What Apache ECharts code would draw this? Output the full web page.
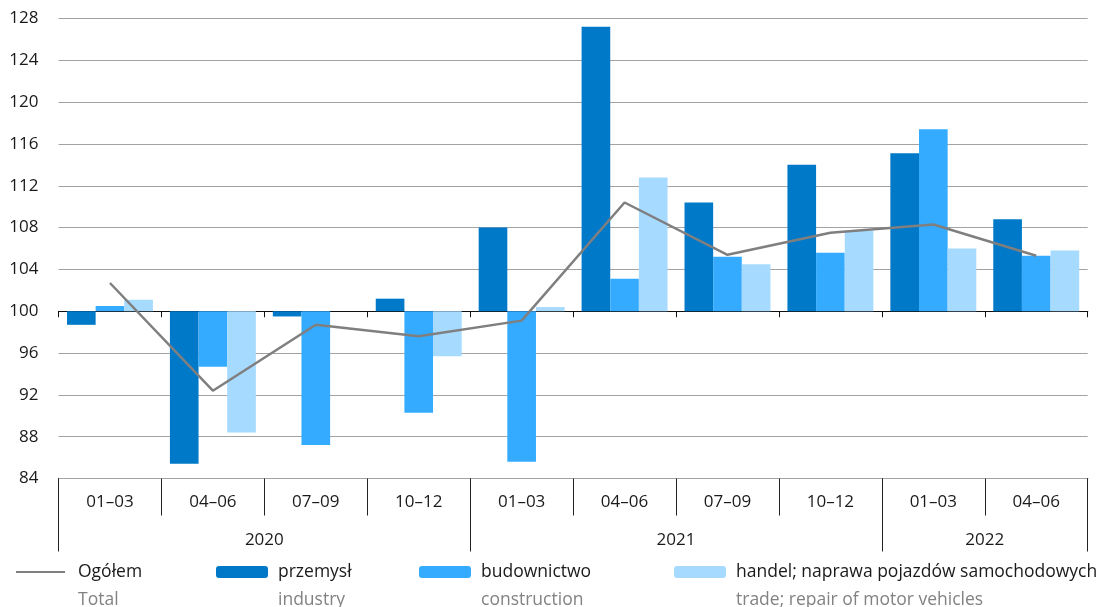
<!DOCTYPE html>
<html>
<head>
<meta charset="utf-8">
<script src="https://cdn.jsdelivr.net/npm/echarts@6/dist/echarts.min.js"></script>
<style>
  html, body { margin: 0; padding: 0; background: #fff; }
  #chart { width: 1098px; height: 607px; }
</style>
</head>
<body>
<div id="chart"></div>
<script>
// Quarterly indices (previous year = 100)
const quarters = ['01–03', '04–06', '07–09', '10–12', '01–03', '04–06', '07–09', '10–12', '01–03', '04–06'];
const years = ['2020', '2021', '2022'];
const quartersPerYear = [4, 4, 2];

const total        = [102.7, 92.4, 98.7, 97.6, 99.1, 110.4, 105.4, 107.5, 108.3, 105.3];
const industry     = [98.7, 85.4, 99.5, 101.2, 108.0, 127.2, 110.4, 114.0, 115.1, 108.8];
const construction = [100.5, 94.7, 87.2, 90.3, 85.6, 103.1, 105.2, 105.6, 117.4, 105.3];
const trade        = [101.1, 88.4, 100.0, 95.7, 100.4, 112.8, 104.5, 107.7, 106.0, 105.8];

const namesPl = ['Ogółem', 'przemysł', 'budownictwo', 'handel; naprawa pojazdów samochodowych'];
const namesEn = ['Total', 'industry', 'construction', 'trade; repair of motor vehicles'];

const BASE = 100;           // bars grow from the 100 line
const FONT = 'Open Sans';
const rel = arr => arr.map(v => +(v - BASE).toFixed(2));

// year group boundaries and centres on a 0..N scale
const yearEdges = [0];
quartersPerYear.forEach(n => yearEdges.push(yearEdges[yearEdges.length - 1] + n));
const yearCentres = years.map((y, i) => (yearEdges[i] + yearEdges[i + 1]) / 2);

const colors = {
  total: '#7f7f7f',
  industry: '#0079c8',
  construction: '#35abff',
  trade: '#a6daff'
};

// thin horizontal stroke for the line-series legend key (box 49 x 12)
const lineIcon = 'path://M0,0L0.01,0L0.01,0.01Z M0,5.1L49,5.1L49,6.9L0,6.9Z M0,12L0.01,12L0.01,11.99Z';

const legendLefts = [16, 216, 419, 674];
const legends = namesPl.map((name, i) => ({
  data: [i === 0 ? { name: name, icon: lineIcon } : name],
  left: legendLefts[i],
  top: 563,
  padding: 0,
  itemWidth: i === 0 ? 49 : 52,
  itemHeight: 12,
  selectedMode: false,
  formatter: n => '{pl|' + n + '}\n{en|' + namesEn[namesPl.indexOf(n)] + '}',
  textStyle: {
    padding: [28, 0, 0, i === 0 ? 8 : 5],
    rich: {
      pl: { fontFamily: FONT, fontSize: 17.5, color: '#1a1a1a', lineHeight: 28 },
      en: { fontFamily: FONT, fontSize: 17.5, color: '#828282', lineHeight: 28 }
    }
  }
}));

const chart = echarts.init(document.getElementById('chart'), null, { renderer: 'canvas' });

chart.setOption({
  animation: false,
  backgroundColor: '#ffffff',
  textStyle: { fontFamily: FONT },
  grid: { left: 58.5, right: 10.3, top: 18.5, bottom: 128.5, containLabel: false },
  legend: legends,
  xAxis: [
    {
      // baseline at 100 with short boundary ticks
      type: 'category',
      data: quarters,
      boundaryGap: true,
      axisLine: { onZero: true, lineStyle: { color: '#111', width: 1.2 } },
      axisTick: { show: true, length: 6, lineStyle: { color: '#111', width: 1 } },
      axisLabel: { show: false },
      splitLine: { show: false }
    },
    {
      // quarter labels under the plot
      type: 'category',
      data: quarters,
      position: 'bottom',
      boundaryGap: true,
      axisLine: { show: true, onZero: false, lineStyle: { color: '#a3a3a3', width: 1.2 } },
      axisTick: { show: true, length: 37, lineStyle: { color: '#222', width: 1 } },
      axisLabel: { show: true, margin: 15, fontFamily: FONT, fontSize: 17, color: '#1a1a1a' },
      splitLine: { show: false }
    },
    {
      // year labels under the quarters
      type: 'value',
      min: 0,
      max: quarters.length,
      position: 'bottom',
      axisLine: { show: true, onZero: false, lineStyle: { color: '#a3a3a3', width: 1.2 } },
      axisTick: { show: false },
      axisLabel: {
        show: true,
        margin: 53,
        customValues: yearCentres,
        fontFamily: FONT, fontSize: 17, color: '#1a1a1a',
        formatter: v => years[yearCentres.indexOf(v)]
      },
      splitLine: { show: false }
    },
    {
      // long separators between years
      type: 'category',
      data: quarters,
      position: 'bottom',
      boundaryGap: true,
      axisLine: { show: true, onZero: false, lineStyle: { color: '#a3a3a3', width: 1.2 } },
      axisTick: {
        show: true,
        length: 73,
        interval: idx => yearEdges.indexOf(idx) >= 0,
        lineStyle: { color: '#222', width: 1 }
      },
      axisLabel: { show: false },
      splitLine: { show: false }
    }
  ],
  yAxis: {
    type: 'value',
    min: -16,
    max: 28,
    interval: 4,
    axisLine: { show: false },
    axisTick: { show: false },
    axisLabel: {
      margin: 20,
      fontFamily: FONT, fontSize: 17, color: '#1a1a1a',
      formatter: v => String(v + BASE)
    },
    splitLine: { show: true, lineStyle: { color: '#a3a3a3', width: 1.2 } }
  },
  series: [
    {
      name: namesPl[1], type: 'bar', xAxisIndex: 0,
      data: rel(industry),
      barGap: '0%', barCategoryGap: '16.5%',
      itemStyle: { color: colors.industry }
    },
    {
      name: namesPl[2], type: 'bar', xAxisIndex: 0,
      data: rel(construction),
      barGap: '0%', barCategoryGap: '16.5%',
      itemStyle: { color: colors.construction }
    },
    {
      name: namesPl[3], type: 'bar', xAxisIndex: 0,
      data: rel(trade),
      barGap: '0%', barCategoryGap: '16.5%',
      itemStyle: { color: colors.trade }
    },
    {
      name: namesPl[0], type: 'line', xAxisIndex: 0,
      data: rel(total),
      symbol: 'none',
      z: 5,
      lineStyle: { color: colors.total, width: 2.5 },
      itemStyle: { color: colors.total }
    }
  ]
});
</script>
</body>
</html>
